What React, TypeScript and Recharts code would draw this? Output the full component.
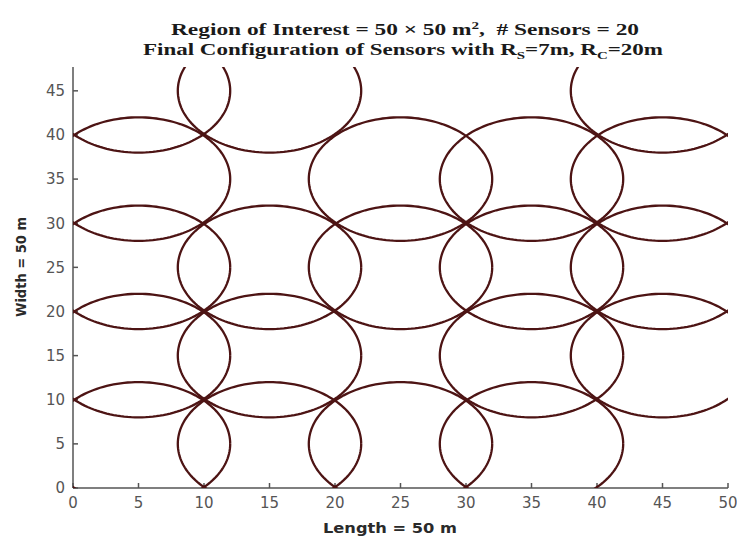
import { Scatter, ScatterChart, XAxis, YAxis } from "recharts";

// sensor centres (m) of the final configuration, one per sensor
const sensorX = [5, 15, 25, 35, 5, 15, 35, 45, 5, 15, 25, 35, 45, 5, 25, 35, 45, 5, 15, 45];
const sensorY = [5, 5, 5, 5, 15, 15, 15, 15, 25, 25, 25, 25, 25, 35, 35, 35, 35, 45, 45, 45];
const sensingRadius = 7;

const xTicks = [0, 5, 10, 15, 20, 25, 30, 35, 40, 45, 50];
const yTicks = [0, 5, 10, 15, 20, 25, 30, 35, 40, 45];
const yMax = 47.7;

const ink = "#4d1414";
const axisColor = "#555";

// trace each sensing disc as a closed outline
const steps = 160;
const circles = sensorX.map((cx, i) =>
  Array.from({ length: steps + 1 }, (_, k) => {
    const a = (k / steps) * 2 * Math.PI;
    return { x: cx + sensingRadius * Math.cos(a), y: sensorY[i] + sensingRadius * Math.sin(a) };
  })
);

const tickStyle = { fill: "#555", fontSize: 15, fontFamily: "DejaVu Sans" };

export default function App() {
  return (
    <div style={{ position: "absolute", left: 0, top: 0, width: 737, height: 537, background: "#fff" }}>
      <ScatterChart width={737} height={537} margin={{ top: 67, right: 9, bottom: 19, left: 13 }}>
        <XAxis
          type="number"
          dataKey="x"
          domain={[0, 50]}
          ticks={xTicks}
          interval={0}
          allowDataOverflow
          height={30}
          tickSize={-5}
          tickMargin={14}
          stroke={axisColor}
          strokeWidth={1.5}
          tick={tickStyle}
        />
        <YAxis
          type="number"
          dataKey="y"
          domain={[0, yMax]}
          ticks={yTicks}
          interval={0}
          allowDataOverflow
          width={60}
          tickSize={-5}
          tickMargin={13}
          stroke={axisColor}
          strokeWidth={1.5}
          tick={tickStyle}
        />
        {circles.map((pts, i) => (
          <Scatter
            key={i}
            data={pts}
            line={{ stroke: ink, strokeWidth: 2.3 }}
            lineType="joint"
            shape={() => <g />}
            legendType="none"
            isAnimationActive={false}
          />
        ))}
      </ScatterChart>
      <svg width={737} height={537} style={{ position: "absolute", left: 0, top: 0, pointerEvents: "none" }}>
        <g fontFamily="Liberation Serif" fontWeight="bold" fill="#1a1a1a">
          <text x={405} y={35} fontSize={17} textAnchor="middle" textLength={468} lengthAdjust="spacingAndGlyphs">
            Region of Interest = 50 × 50 m
            <tspan dy={-6} fontSize={11}>2</tspan>
            <tspan dy={6}>,{"\u00a0\u00a0"}# Sensors = 20</tspan>
          </text>
          <text x={403} y={55} fontSize={17} textAnchor="middle" textLength={520} lengthAdjust="spacingAndGlyphs">
            Final Configuration of Sensors with R
            <tspan dy={4} fontSize={11}>S</tspan>
            <tspan dy={-4}>=7m, R</tspan>
            <tspan dy={4} fontSize={11}>C</tspan>
            <tspan dy={-4}>=20m</tspan>
          </text>
        </g>
        <g fontFamily="DejaVu Sans" fontWeight="bold" fill="#2a2a2a" fontSize={14}>
          <text x={390} y={533} textAnchor="middle" textLength={134} lengthAdjust="spacingAndGlyphs">
            Length = 50 m
          </text>
          <text transform="translate(26,267) rotate(-90)" textAnchor="middle" textLength={100} lengthAdjust="spacingAndGlyphs">
            Width = 50 m
          </text>
        </g>
      </svg>
    </div>
  );
}
